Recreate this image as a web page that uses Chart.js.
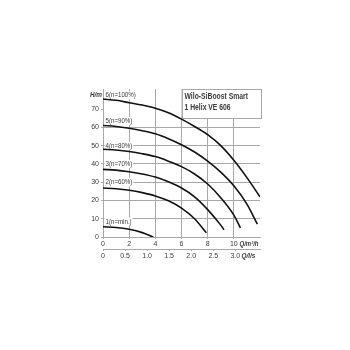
<!DOCTYPE html>
<html>
<head>
<meta charset="utf-8">
<script src="https://cdn.jsdelivr.net/npm/chart.js@4/dist/chart.umd.min.js"></script>
<style>
  html, body { margin: 0; padding: 0; background: #fff; }
  #wrap { width: 350px; height: 350px; }
</style>
</head>
<body>
<div id="wrap"><canvas id="pumpChart" width="350" height="350"></canvas></div>
<script>
// pump curves, Q in m3/h, H in m
const curve1Q = [0, 1, 2, 3, 3.85];
const curve1H = [5.6, 5.2, 4.2, 2.4, 0];

const curve2Q = [0, 1, 2, 3, 4, 5, 6, 7, 7.9];
const curve2H = [26.8, 26.4, 25.6, 24.3, 22.5, 19.8, 15.8, 10, 2.3];

const curve3Q = [0, 1, 2, 3, 4, 5, 6, 7, 8, 9, 9.25];
const curve3H = [37, 36.6, 35.7, 34.5, 32.8, 30.2, 26.8, 22, 15, 6.5, 4];

const curve4Q = [0, 1, 2, 3, 4, 5, 6, 7, 8, 9, 10, 10.5];
const curve4H = [48, 47.6, 46.8, 45.6, 44, 41.5, 38.5, 34.5, 29, 21.5, 12, 5];

const curve5Q = [0, 1, 2, 3, 4, 5, 6, 7, 8, 9, 10, 11, 11.8];
const curve5H = [61, 60.5, 59.5, 58.2, 56.5, 53.8, 50.5, 46.5, 41.5, 35.5, 28, 18, 7];

const curve6Q = [0, 1, 2, 3, 4, 5, 6, 7, 8, 9, 10, 11, 12];
const curve6H = [75.5, 74.8, 73.5, 72.2, 70.5, 68, 64.5, 60.5, 56, 50, 42, 32.5, 22];

const curveNames = ["1(n=min.)", "2(n=60%)", "3(n=70%)", "4(n=80%)", "5(n=90%)", "6(n=100%)"];

const yTicks = [0, 10, 20, 30, 40, 50, 60, 70];
const qTicks = [0, 2, 4, 6, 8, 10];
const lsTicks = [0, 0.5, 1.0, 1.5, 2.0, 2.5, 3.0];

const titleLines = ["Wilo-SiBoost Smart", "1 Helix VE 606"];

const FONT = "'Liberation Sans', sans-serif";
const GRID = "#a8a8a8";
const TEXT = "#3a3a3a";

function toPoints(qs, hs) {
    return qs.map(function(q, i) {
        return { x: q, y: hs[i] };
    });
}

// draws text squeezed horizontally (the original uses a narrow face)
function narrowText(ctx, s, x, y, align, sx) {
    ctx.save();
    ctx.translate(x, y);
    ctx.scale(sx, 1);
    ctx.textAlign = align;
    ctx.fillText(s, 0, 0);
    ctx.restore();
}

const allQ = [curve1Q, curve2Q, curve3Q, curve4Q, curve5Q, curve6Q];
const allH = [curve1H, curve2H, curve3H, curve4H, curve5H, curve6H];

const datasets = allQ.map(function(qs, i) {
    return {
        label: curveNames[i],
        data: toPoints(qs, allH[i]),
        showLine: true,
        borderColor: "#111",
        borderWidth: 1.6,
        pointRadius: 0,
        fill: false,
        cubicInterpolationMode: "monotone"
    };
});

// label anchors (H value at the left of the plot) - layout only
const labelAtH = [8.5, 30, 40, 50, 63.5, 77.5];

const overlay = {
    id: "overlay",
    beforeDatasetsDraw: function(chart) {
        const ctx = chart.ctx;
        const x = chart.scales.x;
        const y = chart.scales.y;
        const area = chart.chartArea;

        // title box
        const bx = x.getPixelForValue(6);
        const by = y.getPixelForValue(65);
        ctx.save();
        ctx.fillStyle = "#fff";
        ctx.fillRect(bx, area.top, area.right - bx, by - area.top);
        ctx.strokeStyle = GRID;
        ctx.lineWidth = 1;
        ctx.strokeRect(Math.round(bx) + 0.5, Math.round(area.top) + 0.5,
            Math.round(area.right - bx), Math.round(by - area.top));
        ctx.fillStyle = TEXT;
        ctx.font = "bold 8.5px " + FONT;
        ctx.textBaseline = "middle";
        narrowText(ctx, titleLines[0], bx + 3, area.top + 8, "left", 0.8);
        narrowText(ctx, titleLines[1], bx + 3, area.top + 19, "left", 0.8);

        // curve labels
        ctx.font = "7.5px " + FONT;
        curveNames.forEach(function(name, i) {
            const ly = y.getPixelForValue(labelAtH[i]);
            const w = ctx.measureText(name).width * 0.82;
            ctx.fillStyle = "#fff";
            ctx.fillRect(area.left + 1.5, ly - 4, w + 2, 8);
            ctx.fillStyle = TEXT;
            narrowText(ctx, name, area.left + 2.5, ly, "left", 0.82);
        });
        ctx.restore();
    },
    afterDraw: function(chart) {
        const ctx = chart.ctx;
        const area = chart.chartArea;
        ctx.save();
        ctx.fillStyle = TEXT;
        ctx.font = "italic bold 7.5px " + FONT;
        ctx.textBaseline = "middle";
        narrowText(ctx, "H/m", area.left - 1, area.top + 6, "right", 0.85);
        narrowText(ctx, "Q/m³/h", 239.5, 243.5, "left", 0.8);
        narrowText(ctx, "Q/l/s", 241.5, 256, "left", 0.85);
        ctx.restore();
    }
};

new Chart(document.getElementById("pumpChart"), {
    type: "scatter",
    data: { datasets: datasets },
    options: {
        responsive: false,
        animation: false,
        events: [],
        layout: { padding: { left: 0, right: 90, top: 89, bottom: 87 } },
        plugins: {
            legend: { display: false },
            tooltip: { enabled: false }
        },
        scales: {
            y: {
                type: "linear",
                min: 0,
                max: 81,
                afterFit: function(scale) { scale.width = 103; },
                afterBuildTicks: function(scale) {
                    scale.ticks = yTicks.map(function(v) { return { value: v }; });
                },
                border: { display: true, color: GRID, width: 1 },
                grid: {
                    color: function(c) {
                        const v = c.tick ? c.tick.value : 0;
                        return (v > 0 && v <= 60) ? GRID : "rgba(0,0,0,0)";
                    },
                    tickLength: 2,
                    tickColor: GRID
                },
                ticks: {
                    color: TEXT,
                    padding: 2,
                    font: { family: FONT, size: 7 }
                }
            },
            x: {
                type: "linear",
                position: "bottom",
                min: 0,
                max: 12,
                afterFit: function(scale) { scale.height = 12; },
                afterBuildTicks: function(scale) {
                    scale.ticks = qTicks.map(function(v) { return { value: v }; });
                },
                border: { display: true, color: GRID, width: 1 },
                grid: {
                    color: function(c) {
                        const v = c.tick ? c.tick.value : 0;
                        return (v > 0 && v < 12) ? GRID : "rgba(0,0,0,0)";
                    },
                    tickLength: 2,
                    tickColor: GRID
                },
                ticks: {
                    color: TEXT,
                    padding: 1,
                    maxRotation: 0,
                    font: { family: FONT, size: 7 }
                }
            },
            x2: {
                type: "linear",
                position: "bottom",
                min: 0,
                max: 3.56,
                afterFit: function(scale) { scale.height = 14; },
                afterBuildTicks: function(scale) {
                    scale.ticks = lsTicks.map(function(v) { return { value: v }; });
                },
                border: { display: true, color: GRID, width: 1 },
                grid: {
                    drawOnChartArea: false,
                    tickLength: 2,
                    color: GRID
                },
                ticks: {
                    color: TEXT,
                    padding: 1,
                    maxRotation: 0,
                    font: { family: FONT, size: 7 },
                    callback: function(v) { return v === 0 ? "0" : v.toFixed(1); }
                }
            }
        }
    },
    plugins: [overlay]
});
</script>
</body>
</html>
